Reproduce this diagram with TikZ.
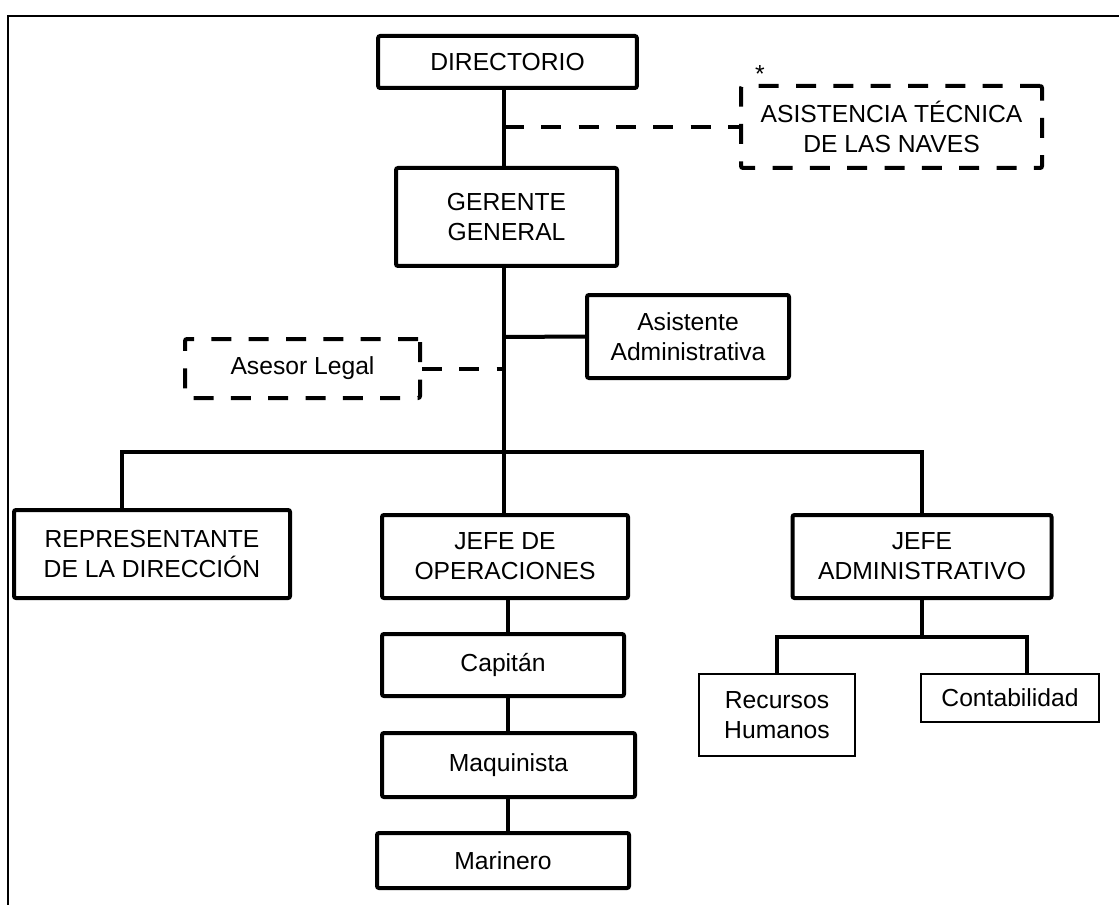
\documentclass[tikz,border=0pt]{standalone}
\usepackage{fontspec}
\setmainfont{Liberation Sans}
\begin{document}
\begin{tikzpicture}[x=0.75pt,y=-0.75pt,
	box/.style={draw,line width=3pt,rounded corners=1.5pt,align=center,inner sep=0pt},
	dbox/.style={box,dash pattern=on 15pt off 13pt},
	tbox/.style={draw,line width=0.9pt,align=center,inner sep=0pt},
	link/.style={line width=3pt},
	dlink/.style={line width=3pt,dash pattern=on 15pt off 13pt},
	font=\fontsize{18.5}{22.5}\selectfont]
	\useasboundingbox (0,0) rectangle (1119,905);
	\draw[line width=1.1pt] (8,905) -- (8,16) -- (1119,16);
	% upper part
	\node[box,minimum width=194pt,minimum height=39pt] (dir) at (507.5,62) {DIRECTORIO};
	\node[dbox,minimum width=225.75pt,minimum height=61.5pt] (ast) at (891.5,127) {ASISTENCIA TÉCNICA\\DE LAS NAVES};
	\node (star) at (760,74) {*};
	\node[box,minimum width=165.75pt,minimum height=73.5pt] (ger) at (506.5,217) {GERENTE\\GENERAL};
	\node[box,minimum width=151.5pt,minimum height=62.25pt] (asis) at (688,336.5) {Asistente\\Administrativa};
	\node[dbox,minimum width=176.25pt,minimum height=44.25pt] (leg) at (302.5,368.5) {Asesor Legal};
	% second level
	\node[box,minimum width=207pt,minimum height=66pt] (rep) at (152,554) {REPRESENTANTE\\DE LA DIRECCIÓN};
	\node[box,minimum width=184.5pt,minimum height=62.25pt] (jop) at (505,556.5) {JEFE DE\\OPERACIONES};
	\node[box,minimum width=194.25pt,minimum height=62.25pt] (jad) at (922,556.5) {JEFE\\ADMINISTRATIVO};
	% operaciones
	\node[box,minimum width=181.5pt,minimum height=46.5pt] (cap) at (503,665) {Capitán};
	\node[box,minimum width=189.75pt,minimum height=48pt] (maq) at (508.5,765) {Maquinista};
	\node[box,minimum width=189pt,minimum height=41.25pt] (mar) at (503,860.5) {Marinero};
	% administracion
	\node[tbox,minimum width=117pt,minimum height=61.5pt] (rh) at (777,715) {Recursos\\Humanos};
	\node[tbox,minimum width=133.5pt,minimum height=36pt] (con) at (1010,698) {Contabilidad};
	% connectors
	\coordinate (t1) at (504,127);
	\coordinate (t2) at (504,337);
	\coordinate (bus) at (504,452);
	\coordinate (abus) at (922,637);
	\draw[link] (dir.south -| t1) -- (ger.north -| t1);
	\draw[dlink] (t1) -- (ast.west);
	\draw[link] (ger.south -| bus) -- (jop.north -| bus);
	\draw[link] (t2) -- (asis.west);
	\draw[dlink] (leg.east) -- (leg.east -| t2);
	\draw[link] (rep.north -| 122,0) |- (bus) -| (jad.north);
	\draw[link] (jop.south -| 508,0) -- (cap.north -| 508,0);
	\draw[link] (cap.south -| 508,0) -- (maq.north -| 508,0);
	\draw[link] (maq.south -| 508,0) -- (mar.north -| 508,0);
	\draw[link] (jad.south) -- (abus);
	\draw[link] (rh.north) |- (abus) -| (con.north -| 1027,0);
\end{tikzpicture}
\end{document}
